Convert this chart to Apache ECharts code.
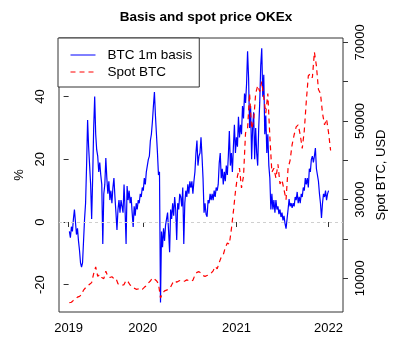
<!DOCTYPE html>
<html><head><meta charset="utf-8">
<script src="https://cdn.jsdelivr.net/npm/echarts@6/dist/echarts.min.js"></script>
<style>html,body{margin:0;padding:0;background:#fff}#c{width:404px;height:357px}</style>
</head><body><div id="c"></div>
<script>
// observation index (days since first obs), sampled every basisStep obs
const basisStart = 3, basisStep = 4;
const basisPct = [
  -3, -5, -1.5, -3, 1, 4, 0, -4, -2, -6,
  -9, -13, -14.4, -13, -6, 1, 6, 18, 32.5, 24,
  18, 12, 1, 14, 30, 40, 28, 23, 21, 16,
  19, 15, 12, -7, 9, 12, 20.4, 14, 9, 13,
  7, 10, 6, 11, 14, 8, 3, -2.5, 4, 7,
  3, 7, 5, 3, 12, 4, -7, 11.5, 7, 10,
  6, 8, 3, -1.6, 5, 2, 6, 4, 7, 6,
  9, 8, 11, 10, 14, 12, 16, 18, 20, 21,
  26, 28, 32, 37, 41.5, 34, 28, 22, 15, 16,
  -25.7, -3, -8, -2, -6, -1, 1, 3, -3, -9.6,
  4, 1, 6, 2, 8, 4, -5.7, 6, 4, 9,
  8, 5, 11, -7, 6, 10, 8, 12, 9, 13,
  11, 13, 9, 13, 16, 22, 26, 18, 21, 22,
  27, 21, 14, 3, 6, 2.5, 1.7, 7, 6, 9,
  7, 9, 7, 10, 8, 11, 10, 12, 18.8, 22,
  14, 17, 12, 16, 13, 18, 15, 21, 29, 18,
  22, 16, 24, 31, 22, 27, 24, 33.6, 27, 31,
  28, 37, 33, 41, 38, 44, 54.5, 46, 30, 37,
  20, 30, 35, 20, 30, 22, 18, 30, 38, 50,
  55.4, 40, 47, 28, 34, 22, 28, 18, 14, 4,
  9, 4, 7, 3, 7, 4, 5, 2.5, 4, 1.6,
  3, 0.5, 2, -0.5, -2.1, 1, 4, 7.3, 5, 6,
  4.5, 6, 5, 8, 7, 9.6, 6, 8, 6, 9,
  8, 11, 10, 14, 12, 14, 11, 17, 16, 20,
  21, 19, 21, 23.6, 17, 15, 13, 9, 6, 1.3,
  6, 9, 8, 10, 7, 9, 10
];
const spotStart = 3, spotStep = 8;
const spotUsd = [
  3800, 3900, 4400, 4700, 5200, 5400, 5800, 7000, 7600, 8000,
  8500, 8900, 11200, 12900, 10500, 11000, 10200, 9900, 11800, 10500,
  10200, 10400, 9900, 10000, 8600, 8300, 8200, 8400, 9500, 9100,
  8300, 7900, 7500, 7200, 7300, 7500, 7200, 7700, 8100, 8800,
  9300, 10100, 9800, 9400, 8600, 5000, 6200, 6800, 7000, 7200,
  7800, 8800, 9400, 9000, 9300, 9500, 9200, 9300, 9600, 9400,
  9200, 9500, 10800, 11500, 11700, 11300, 10700, 10500, 10700, 10900,
  11300, 11900, 13000, 12400, 14000, 15400, 16000, 17800, 19000, 18700,
  22500, 27000, 32000, 36000, 38000, 33000, 36000, 47000, 48000, 57000,
  48000, 50000, 57000, 59000, 57500, 60000, 56000, 52000, 57000, 46000,
  37000, 38000, 35500, 39000, 34000, 35000, 32500, 30000, 38000, 40000,
  44000, 46500, 48500, 49000, 46500, 43000, 47500, 55000, 61500, 62000,
  61000, 67500, 64000, 58000, 57000, 52000, 49000, 50500, 47000, 42500
];
const yearTickObs = [0, 293, 663, 1027];
const yearTickLabels = ['2019', '2020', '2021', '2022'];
const pctTicks = [-20, 0, 20, 40];
const usdTicks = [10000, 20000, 30000, 40000, 50000, 60000, 70000];
const usdLabelTicks = [10000, 30000, 50000, 70000];

const basisData = basisPct.map((v, i) => [basisStart + i * basisStep, v]);
const spotData = spotUsd.map((v, i) => [spotStart + i * spotStep, v]);

const FONT = "'Liberation Sans', Arial, sans-serif";
const chart = echarts.init(document.getElementById('c'), null, { renderer: 'canvas' });
chart.setOption({
  animation: false,
  backgroundColor: '#fff',
  textStyle: { fontFamily: FONT },
  title: {
    text: 'Basis and spot price OKEx',
    left: 201, top: 5, textAlign: 'center',
    textStyle: { fontFamily: FONT, fontSize: 13.5, fontWeight: 'bold', color: '#000' }
  },
  grid: { left: 59, right: 61, top: 38, bottom: 45, show: true, borderColor: '#333', borderWidth: 1, backgroundColor: 'transparent' },
  legend: {
    orient: 'vertical', left: 58, top: 38,
    padding: [10, 7, 8, 12], itemGap: 3, itemWidth: 25, itemHeight: 14,
    borderColor: '#333', borderWidth: 1, backgroundColor: '#fff', borderRadius: 0,
    itemStyle: { opacity: 0 },
    lineStyle: { width: 1 },
    textStyle: { fontFamily: FONT, fontSize: 13.5, color: '#000', padding: [0, 0, 0, 7], lineHeight: 14 },
    data: ['BTC 1m basis', 'Spot BTC']
  },
  xAxis: {
    type: 'value', min: -38, max: 1084,
    axisLine: { show: false },
    splitLine: { show: false },
    axisTick: { show: true, length: 5, lineStyle: { color: '#333' }, customValues: yearTickObs },
    axisLabel: {
      customValues: yearTickObs, margin: 10, fontSize: 13, color: '#000', fontFamily: FONT,
      formatter: v => yearTickLabels[yearTickObs.indexOf(v)] || ''
    }
  },
  yAxis: [
    {
      type: 'value', position: 'left', min: -28.7, max: 58.7,
      axisLine: { show: false }, splitLine: { show: false },
      axisTick: { show: true, length: 5, lineStyle: { color: '#333' }, customValues: pctTicks },
      axisLabel: { customValues: pctTicks, rotate: 90, margin: 12, fontSize: 13, color: '#000', fontFamily: FONT },
      name: '%', nameLocation: 'middle', nameGap: 33, nameRotate: 90,
      nameTextStyle: { fontSize: 13, color: '#000', fontFamily: FONT }
    },
    {
      type: 'value', position: 'right', min: 1430, max: 71100,
      axisLine: { show: false }, splitLine: { show: false },
      axisTick: { show: true, length: 5, lineStyle: { color: '#333' }, customValues: usdTicks },
      axisLabel: { customValues: usdLabelTicks, rotate: 90, margin: 11, fontSize: 13, color: '#000', fontFamily: FONT,
        formatter: v => String(v) },
      name: 'Spot BTC, USD', nameLocation: 'middle', nameGap: 31, nameRotate: 90,
      nameTextStyle: { fontSize: 13, color: '#000', fontFamily: FONT }
    }
  ],
  series: [
    {
      name: 'BTC 1m basis', type: 'line', yAxisIndex: 0, data: basisData,
      showSymbol: false, symbol: 'none',
      lineStyle: { color: '#0000ff', width: 1.2 }, itemStyle: { color: '#0000ff' },
      z: 3,
      markLine: {
        silent: true, symbol: 'none', label: { show: false },
        lineStyle: { color: '#cfcfcf', type: [3, 3], width: 1 },
        data: [{ yAxis: 0 }]
      }
    },
    {
      name: 'Spot BTC', type: 'line', yAxisIndex: 1, data: spotData,
      showSymbol: false, symbol: 'none',
      lineStyle: { color: '#ff0000', width: 1.2, type: [5, 4] }, itemStyle: { color: '#ff0000' },
      z: 3
    }
  ]
});
</script>
</body></html>
